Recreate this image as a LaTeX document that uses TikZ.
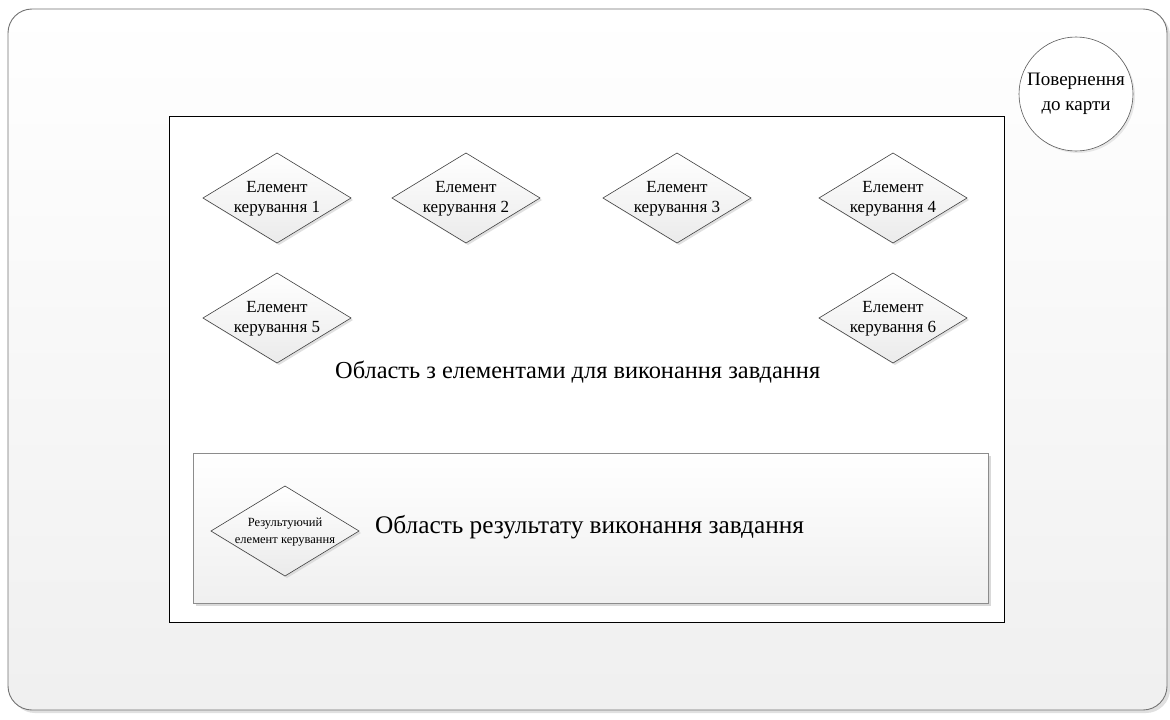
\documentclass[tikz,border=0pt]{standalone}
\usepackage{fontspec}
\setmainfont{Liberation Serif}
\usetikzlibrary{shapes.geometric,shadows}
\newcommand{\dtxt}[2]{\smash{\makebox[0pt]{\raisebox{-0.28em}{\begin{tabular}{@{}c@{}}#1\\#2\end{tabular}}}}}
\tikzset{
  panel/.style={rounded corners=24pt, draw=black!55, line width=0.9pt,
    top color=white, bottom color=black!6,
    drop shadow={shadow xshift=3pt, shadow yshift=-3pt, fill=black!12, opacity=1}},
  workarea/.style={draw=black, line width=0.9pt, fill=white},
  resarea/.style={draw=black!45, line width=1pt, top color=white, bottom color=black!6,
    drop shadow={shadow xshift=3pt, shadow yshift=-3pt, fill=black!15, opacity=1}},
  elem/.style={diamond, draw=black!75, line width=0.6pt, inner sep=0pt, outer sep=0pt,
    minimum width=148pt, minimum height=90pt, top color=white, bottom color=black!8,
    font=\fontsize{17}{20}\selectfont,
    drop shadow={shadow xshift=2pt, shadow yshift=-2pt, fill=black!20, opacity=.6}},
  relem/.style={elem, font=\fontsize{12.5}{16.5}\selectfont},
  backbtn/.style={circle, draw=black!65, line width=0.6pt, minimum size=114pt, inner sep=0pt,
    top color=white, bottom color=white, align=center,
    font=\fontsize{19}{25}\selectfont,
    drop shadow={shadow xshift=2pt, shadow yshift=-2pt, fill=black!15, opacity=.6}},
  areatext/.style={inner sep=0pt, anchor=west}
}
\begin{document}
\begin{tikzpicture}[x=1pt,y=-1pt]
\useasboundingbox (0,0) rectangle (1170,720);
\fill[white] (0,0) rectangle (1170,720);
\node[panel, minimum width=1159pt, minimum height=701pt, inner sep=0pt] (frame) at (587.5,359.5) {};
\node[workarea, minimum width=835pt, minimum height=506pt, inner sep=0pt] (work) at (586.5,369) {};
\node[resarea, minimum width=795pt, minimum height=150pt, inner sep=0pt] (res) at (590.5,528) {};
\node[backbtn] (back) at (1076,94) {Повернення\\до карти};
\node[elem] (e1) at (277,198) {\dtxt{Елемент}{керування 1}};
\node[elem] (e2) at (466,198) {\dtxt{Елемент}{керування 2}};
\node[elem] (e3) at (677,198) {\dtxt{Елемент}{керування 3}};
\node[elem] (e4) at (893,198) {\dtxt{Елемент}{керування 4}};
\node[elem] (e5) at (277,318) {\dtxt{Елемент}{керування 5}};
\node[elem] (e6) at (893,318) {\dtxt{Елемент}{керування 6}};
\node[relem] (r1) at (285,531) {\dtxt{Результуючий}{елемент керування}};
\node[areatext, font=\fontsize{24.4}{28}\selectfont] (t1) at (335,372) {Область з елементами для виконання завдання};
\node[areatext, font=\fontsize{25.3}{29}\selectfont] (t2) at (375,527) {Область результату виконання завдання};
\end{tikzpicture}
\end{document}
